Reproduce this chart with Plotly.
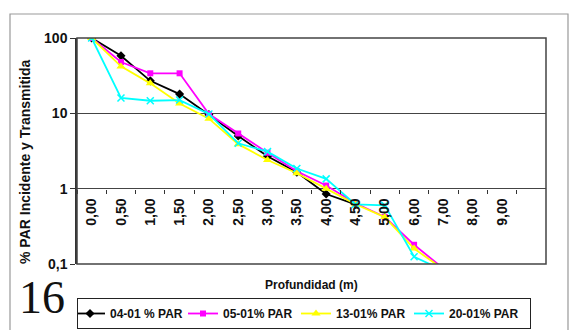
import plotly.graph_objects as go

categories = ["0,00", "0,50", "1,00", "1,50", "2,00", "2,50", "3,00", "3,50",
              "4,00", "4,50", "5,00", "6,00", "7,00", "8,00", "9,00"]

par_0401 = [100, 58, 27, 18, 9.6, 5.0, 2.7, 1.65, 0.85, 0.62]
par_0501 = [100, 48, 34, 34, 9.8, 5.4, 3.0, 1.7, 1.1, 0.64, 0.42, 0.18, 0.087]
par_1301 = [100, 42, 25, 13.5, 8.5, 3.9, 2.4, 1.6, 1.0, 0.62, 0.42, 0.16, 0.085]
par_2001 = [100, 16, 14.7, 15, 9.8, 4.0, 3.1, 1.85, 1.35, 0.62, 0.6, 0.125, 0.082]

series_names = ["04-01 % PAR", "05-01% PAR", "13-01% PAR", "20-01% PAR"]

FONT = "Liberation Sans, Arial, sans-serif"

fig = go.Figure()
fig.add_trace(go.Scatter(x=categories[:len(par_0401)], y=par_0401, name=series_names[0],
                         mode="lines+markers", line=dict(color="#000000", width=1.8),
                         marker=dict(symbol="diamond", size=7, color="#000000")))
fig.add_trace(go.Scatter(x=categories[:len(par_0501)], y=par_0501, name=series_names[1],
                         mode="lines+markers", line=dict(color="#FF00FF", width=1.8),
                         marker=dict(symbol="square", size=6, color="#FF00FF")))
fig.add_trace(go.Scatter(x=categories[:len(par_1301)], y=par_1301, name=series_names[2],
                         mode="lines+markers", line=dict(color="#FFFF00", width=1.8),
                         marker=dict(symbol="triangle-up", size=8, color="#FFFF00")))
fig.add_trace(go.Scatter(x=categories[:len(par_2001)], y=par_2001, name=series_names[3],
                         mode="lines+markers", line=dict(color="#00FFFF", width=1.8),
                         marker=dict(symbol="x-thin", size=7, color="#00FFFF",
                                     line=dict(color="#00FFFF", width=1.5))))

W, H = 577, 330
L, R, T, B = 77, 31, 38, 66
pw, ph = W - L - R, H - T - B

def px(xp):
    return (xp - L) / pw

def py(yp):
    return (H - B - yp) / ph

fig.update_layout(
    width=W, height=H,
    margin=dict(l=L, r=R, t=T, b=B, autoexpand=False),
    paper_bgcolor="white", plot_bgcolor="white",
    font=dict(family=FONT, size=13, color="#111111"),
    showlegend=True,
    legend=dict(orientation="h", x=px(77), y=py(298), xanchor="left", yanchor="top",
                bordercolor="#222222", borderwidth=1, bgcolor="white",
                font=dict(family=FONT, size=12, color="#111111", weight="bold"),
                itemwidth=30, tracegroupgap=0, entrywidth=76, entrywidthmode="pixels",
                indentation=-8),
    xaxis=dict(type="category", categoryorder="array", categoryarray=categories,
               range=[-0.5, 15.5], anchor="free", position=1/3,
               tickson="boundaries", ticks="outside", ticklen=4, tickcolor="#333333",
               tickangle=-90, showgrid=False, showline=False, zeroline=False,
               ticklabelstandoff=6,
               tickfont=dict(family=FONT, size=14, color="#111111", weight="bold")),
    yaxis=dict(type="log", range=[-1, 2], tickvals=[0.1, 1, 10, 100],
               ticktext=["0,1", "1", "10", "100"], ticks="outside", ticklen=5,
               tickcolor="#333333", showgrid=True, gridcolor="#444444", gridwidth=1.2,
               showline=True, linecolor="#333333", linewidth=1.5, zeroline=False,
               tickfont=dict(family=FONT, size=14, color="#111111", weight="bold")),
    shapes=[
        dict(type="rect", xref="paper", yref="paper", x0=0, x1=1, y0=0, y1=1,
             line=dict(color="#444444", width=1.5), layer="above"),
        dict(type="rect", xref="paper", yref="paper", x0=px(10), x1=px(568),
             y0=py(345), y1=py(14), line=dict(color="#999999", width=1.2), layer="below"),
    ],
    annotations=[
        dict(text="% PAR Incidente y Transmitida", xref="paper", yref="paper",
             x=px(25), y=py(162), textangle=-90, showarrow=False,
             xanchor="center", yanchor="middle",
             font=dict(family=FONT, size=14, color="#111111", weight="bold")),
        dict(text="Profundidad (m)", xref="paper", yref="paper",
             x=px(311), y=py(285), showarrow=False, xanchor="center", yanchor="middle",
             font=dict(family=FONT, size=12, color="#111111", weight="bold")),
        dict(text="16", xref="paper", yref="paper", x=px(42), y=py(297),
             showarrow=False, xanchor="center", yanchor="middle",
             font=dict(family="Liberation Serif, Times New Roman, serif", size=46,
                       color="#111111")),
    ],
)

fig.write_html("out.html", config={"displayModeBar": False},
               post_script="document.body.style.margin='0';document.body.style.overflow='hidden';")
